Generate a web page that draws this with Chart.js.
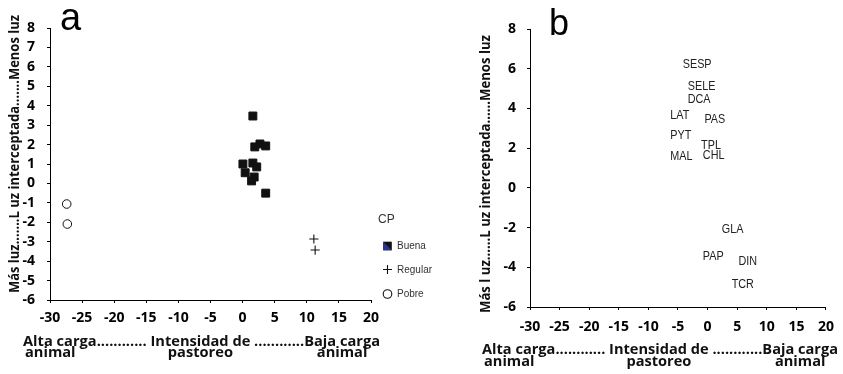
<!DOCTYPE html>
<html>
<head>
<meta charset="utf-8">
<script src="https://cdn.jsdelivr.net/npm/chart.js@4.4.1/dist/chart.umd.min.js"></script>
<style>
    html, body { margin: 0; padding: 0; background: #fff; }
    #wrap { position: relative; width: 843px; height: 374px; overflow: hidden; }
    #chartA { position: absolute; left: 0; top: 0; }
    #chartB { position: absolute; left: 420px; top: 0; }
</style>
</head>
<body>
<div id="wrap">
    <canvas id="chartA" width="440" height="374"></canvas>
    <canvas id="chartB" width="423" height="374"></canvas>
</div>
<script>
// Panel a: sitios por condición de pastizal (CP)
const buenaX = [1.6, 2.7, 3.6, 1.9, 0.05, 1.6, 2.2, 0.4, 1.8, 1.4, 3.6];
const buenaY = [3.47, 2.03, 1.93, 1.88, 1.0, 1.05, 0.85, 0.55, 0.33, 0.13, -0.5];
const regularX = [11.1, 11.3];
const regularY = [-2.86, -3.43];
const pobreX = [-27.4, -27.3];
const pobreY = [-1.06, -2.09];

// Panel b: especies
const especies = ['SESP', 'SELE', 'DCA', 'LAT', 'PAS', 'PYT', 'TPL', 'CHL', 'MAL', 'GLA', 'PAP', 'DIN', 'TCR'];
const especiesX = [-4.2, -3.35, -3.35, -6.3, -0.54, -6.3, -1.1, -0.8, -6.3, 2.4, -0.8, 5.2, 4.06];
const especiesY = [6.05, 4.93, 4.26, 3.49, 3.27, 2.48, 1.98, 1.47, 1.39, -2.28, -3.62, -3.88, -5.05];

// Marcas de los ejes
const xTicks = [-30, -25, -20, -15, -10, -5, 0, 5, 10, 15, 20];
const yTicksA = [-6, -5, -4, -3, -2, -1, 0, 1, 2, 3, 4, 5, 6, 7, 8];
const yTicksB = [-6, -4, -2, 0, 2, 4, 6, 8];

const legendaTitulo = 'CP';
const legendaNombres = ['Buena', 'Regular', 'Pobre'];

const xTitulo1 = ['Alta carga............ ', 'Intensidad de', ' ............Baja carga'];
const xTitulo2 = ['animal', 'pastoreo', 'animal'];
const yTituloA = 'Más luz.......L uz interceptada.......Menos luz';
const yTituloB = 'Más l uz......L uz interceptada......Menos luz';

const tickFont = { family: '"Open Sans", sans-serif', size: 14, weight: 'bold' };
const boldFont = 'bold 14px "Open Sans", sans-serif';

function toPoints(xs, ys) {
    return xs.map((x, i) => ({ x: x, y: ys[i] }));
}

function ejeX(alto, pad) {
    return {
        type: 'linear', min: -30, max: 20,
        afterBuildTicks: s => { s.ticks = xTicks.map(v => ({ value: v })); },
        afterFit: s => { s.height = alto; },
        grid: { drawOnChartArea: false, drawTicks: true, tickLength: 3, color: '#000' },
        border: { color: '#000', width: 1 },
        ticks: { color: '#000', font: tickFont, padding: pad, maxRotation: 0, autoSkip: false }
    };
}

function ejeY(valores, ancho, pad) {
    return {
        type: 'linear', min: -6, max: 8,
        afterBuildTicks: s => { s.ticks = valores.map(v => ({ value: v })); },
        afterFit: s => { s.width = ancho; },
        grid: { drawOnChartArea: false, drawTicks: true, tickLength: 3, color: '#000' },
        border: { color: '#000', width: 1 },
        ticks: { color: '#000', font: tickFont, padding: pad, autoSkip: false }
    };
}

// texto comprimido horizontalmente para que ocupe "ancho"
function textoAjustado(ctx, texto, x, y, ancho) {
    const w = ctx.measureText(texto).width;
    const k = ancho / w;
    ctx.save();
    ctx.translate(x, y);
    ctx.scale(k, 1);
    ctx.textAlign = 'left';
    ctx.fillText(texto, 0, 0);
    ctx.restore();
    return k;
}

function dibujarTitulos(chart, o) {
    const ctx = chart.ctx;
    ctx.save();
    ctx.fillStyle = '#111';
    ctx.font = boldFont;
    ctx.textBaseline = 'alphabetic';
    // eje x, linea 1
    const linea = xTitulo1.join('');
    const W = ctx.measureText(linea).width;
    const k = (o.xRight - o.xLeft) / W;
    textoAjustado(ctx, linea, o.xLeft, o.xBase1, o.xRight - o.xLeft);
    // eje x, linea 2
    const w0 = ctx.measureText(xTitulo1[0]).width * k;
    const w1 = ctx.measureText(xTitulo1[1]).width * k;
    const wBaja = ctx.measureText('Baja carga').width * k;
    ctx.save();
    ctx.translate(o.xLeft, o.xBase2);
    ctx.scale(k, 1);
    ctx.textAlign = 'left';
    ctx.fillText(xTitulo2[0], 2 / k, 0);
    ctx.textAlign = 'center';
    ctx.fillText(xTitulo2[1], (w0 + w1 / 2) / k, 0);
    ctx.fillText(xTitulo2[2], ((o.xRight - o.xLeft) - wBaja / 2) / k, 0);
    ctx.restore();
    // eje y (rotado)
    ctx.save();
    ctx.translate(o.yBase, o.yBottom);
    ctx.rotate(-Math.PI / 2);
    textoAjustado(ctx, o.yTitulo, 0, 0, o.yBottom - o.yTop);
    ctx.restore();
    // letra del panel
    ctx.font = o.letraSize + 'px "Liberation Sans", Arial, sans-serif';
    ctx.fillStyle = '#000';
    ctx.textAlign = 'left';
    ctx.fillText(o.letra, o.letraX, o.letraY);
    ctx.restore();
}

const titulosPlugin = {
    id: 'titulos',
    afterDraw(chart, args, opts) { dibujarTitulos(chart, opts); }
};

const leyendaPlugin = {
    id: 'leyenda',
    afterDraw(chart) {
        const ctx = chart.ctx;
        ctx.save();
        ctx.fillStyle = '#333';
        ctx.textBaseline = 'middle';
        ctx.textAlign = 'left';
        ctx.font = '12px "Liberation Sans", Arial, sans-serif';
        ctx.fillText(legendaTitulo, 378, 220);
        const ix = 387.5, ys = [246, 269.5, 294];
        // Buena
        ctx.fillStyle = '#111';
        ctx.fillRect(ix - 4.3, ys[0] - 4.3, 8.6, 8.6);
        ctx.beginPath();
        ctx.moveTo(ix - 4.3, ys[0] - 4.3);
        ctx.lineTo(ix + 4.3, ys[0] + 4.3);
        ctx.lineTo(ix - 4.3, ys[0] + 4.3);
        ctx.closePath();
        ctx.fillStyle = '#2a3590';
        ctx.fill();
        // Regular
        ctx.strokeStyle = '#111';
        ctx.lineWidth = 1.1;
        ctx.beginPath();
        ctx.moveTo(ix - 4.5, ys[1]); ctx.lineTo(ix + 4.5, ys[1]);
        ctx.moveTo(ix, ys[1] - 4.5); ctx.lineTo(ix, ys[1] + 4.5);
        ctx.stroke();
        // Pobre
        ctx.beginPath();
        ctx.arc(ix, ys[2], 4.3, 0, Math.PI * 2);
        ctx.stroke();
        ctx.fillStyle = '#333';
        ctx.font = '10px "Liberation Sans", Arial, sans-serif';
        legendaNombres.forEach((n, i) => ctx.fillText(n, 397, ys[i] + 0.5));
        ctx.restore();
    }
};

const etiquetasPlugin = {
    id: 'etiquetas',
    afterDatasetsDraw(chart) {
        const ctx = chart.ctx;
        const meta = chart.getDatasetMeta(0);
        ctx.save();
        ctx.font = '12px "Liberation Sans", Arial, sans-serif';
        ctx.fillStyle = '#222';
        ctx.textAlign = 'left';
        ctx.textBaseline = 'alphabetic';
        meta.data.forEach((pt, i) => {
            ctx.save();
            ctx.translate(pt.x, pt.y);
            ctx.scale(0.9, 1);
            ctx.fillText(especies[i], 0, 0);
            ctx.restore();
        });
        ctx.restore();
    }
};

// Panel a
new Chart(document.getElementById('chartA'), {
    type: 'scatter',
    data: {
        datasets: [
            {
                label: 'Buena', data: toPoints(buenaX, buenaY),
                pointStyle: 'rect', pointRadius: 5.6, backgroundColor: '#111', borderColor: '#111', borderWidth: 1
            },
            {
                label: 'Regular', data: toPoints(regularX, regularY),
                pointStyle: 'cross', pointRadius: 4.6, borderColor: '#111', borderWidth: 1.1
            },
            {
                label: 'Pobre', data: toPoints(pobreX, pobreY),
                pointStyle: 'circle', pointRadius: 4.3, backgroundColor: '#fff', borderColor: '#111', borderWidth: 1
            }
        ]
    },
    options: {
        responsive: false,
        animation: false,
        devicePixelRatio: 1,
        layout: { padding: { top: 28, right: 69, left: 0, bottom: 0 } },
        scales: { x: ejeX(74, 7), y: ejeY(yTicksA, 50, 12) },
        plugins: {
            legend: { display: false },
            tooltip: { enabled: false },
            titulos: {
                xLeft: 23, xRight: 380, xBase1: 345.5, xBase2: 356.5,
                yBase: 18.5, yTop: 15, yBottom: 293, yTitulo: yTituloA,
                letra: 'a', letraSize: 38, letraX: 60, letraY: 30
            }
        }
    },
    plugins: [titulosPlugin, leyendaPlugin]
});

// Panel b
new Chart(document.getElementById('chartB'), {
    type: 'scatter',
    data: {
        datasets: [{
            label: 'Especies', data: toPoints(especiesX, especiesY),
            pointRadius: 0, borderWidth: 0
        }]
    },
    options: {
        responsive: false,
        animation: false,
        devicePixelRatio: 1,
        layout: { padding: { top: 29, right: 16, left: 0, bottom: 0 } },
        scales: { x: ejeX(67, 9), y: ejeY(yTicksB, 110, 11) },
        plugins: {
            legend: { display: false },
            tooltip: { enabled: false },
            titulos: {
                xLeft: 62, xRight: 418, xBase1: 354, xBase2: 366,
                yBase: 69.5, yTop: 35, yBottom: 313, yTitulo: yTituloB,
                letra: 'b', letraSize: 36, letraX: 129, letraY: 35
            }
        }
    },
    plugins: [titulosPlugin, etiquetasPlugin]
});
</script>
</body>
</html>
